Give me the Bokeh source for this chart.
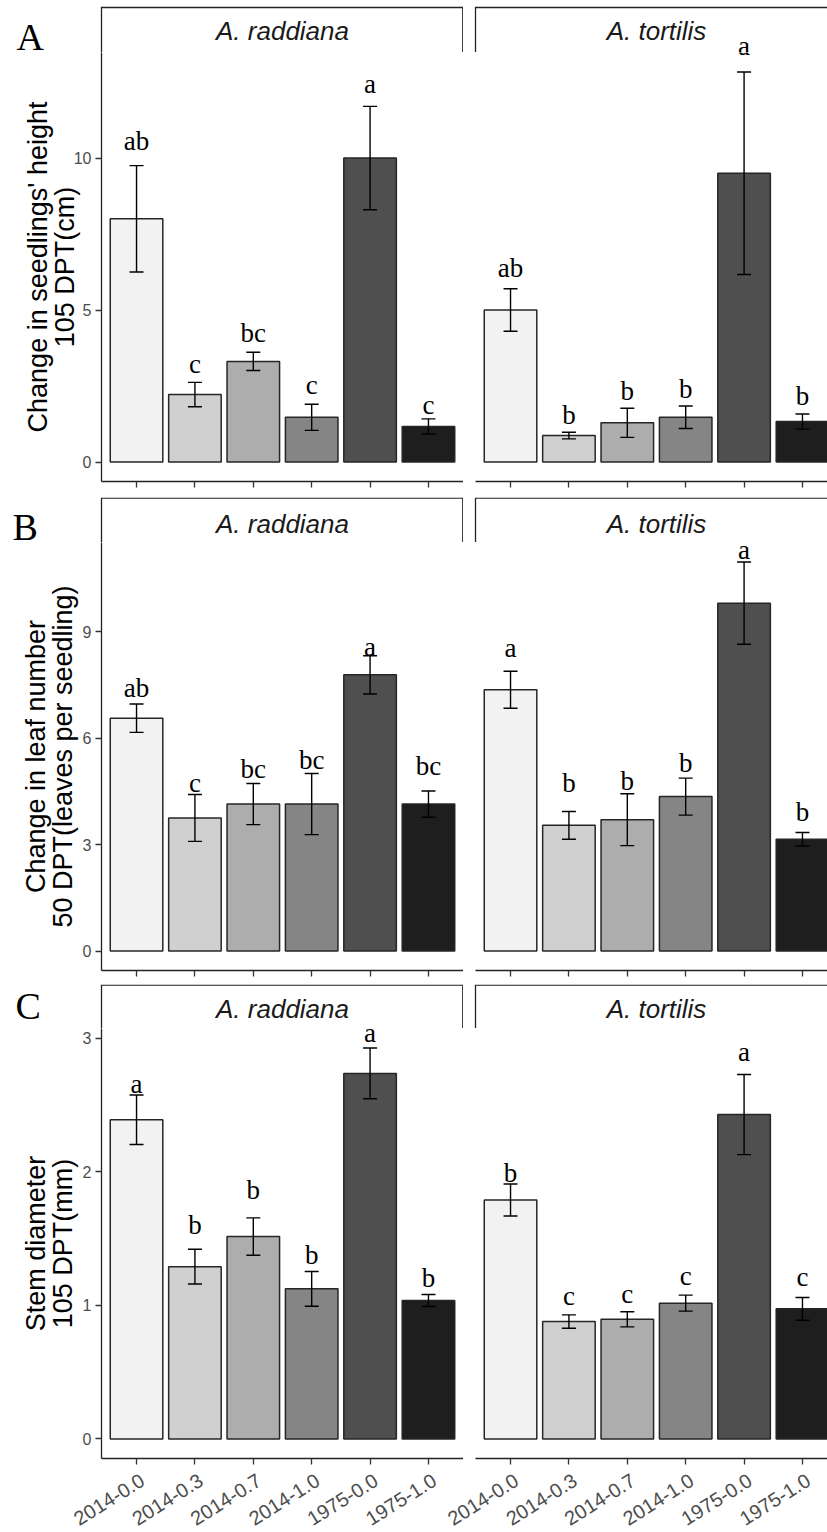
import math
from bokeh.plotting import figure
from bokeh.models import (Range1d, FixedTicker, LinearAxis, Whisker, TeeHead,
                          ColumnDataSource)
from bokeh.layouts import column, row
from bokeh.embed import file_html
from bokeh.resources import INLINE
from bokeh.core.properties import value

# ---------------- data ----------------
categories = ["2014-0.0", "2014-0.3", "2014-0.7", "2014-1.0", "1975-0.0", "1975-1.0"]
species = ["A. raddiana", "A. tortilis"]
panel_letters = ["A", "B", "C"]
bar_colors = ["#F2F2F2", "#D0D0D0", "#ADADAD", "#858585", "#4F4F4F", "#1E1E1E"]

# A: change in seedlings' height, 105 DPT (cm)
height_rad_mean = [8.0, 2.22, 3.31, 1.47, 10.0, 1.17]
height_rad_se = [1.75, 0.40, 0.30, 0.43, 1.70, 0.25]
height_rad_letters = ["ab", "c", "bc", "c", "a", "c"]
height_rad_label_y = [10.26, 2.93, 3.95, 2.25, 12.14, 1.59]
height_tor_mean = [5.0, 0.87, 1.29, 1.47, 9.5, 1.33]
height_tor_se = [0.70, 0.11, 0.48, 0.37, 3.33, 0.25]
height_tor_letters = ["ab", "b", "b", "b", "a", "b"]
height_tor_label_y = [6.09, 1.24, 2.05, 2.12, 13.39, 1.89]
height_ticks = [0, 5, 10]
height_ylabel = "Change in seedlings' height\n105 DPT(cm)"

# B: change in leaf number, 50 DPT
leaf_rad_mean = [6.56, 3.75, 4.14, 4.14, 7.78, 4.14]
leaf_rad_se = [0.40, 0.66, 0.58, 0.86, 0.54, 0.37]
leaf_rad_letters = ["ab", "c", "bc", "bc", "a", "bc"]
leaf_rad_label_y = [7.17, 4.49, 4.87, 5.13, 8.30, 4.96]
leaf_tor_mean = [7.36, 3.54, 3.70, 4.35, 9.80, 3.15]
leaf_tor_se = [0.52, 0.39, 0.73, 0.52, 1.16, 0.19]
leaf_tor_letters = ["a", "b", "b", "b", "a", "b"]
leaf_tor_label_y = [8.28, 4.49, 4.54, 5.04, 11.05, 3.67]
leaf_ticks = [0, 3, 6, 9]
leaf_ylabel = "Change in leaf number\n50 DPT(leaves per seedling)"

# C: stem diameter, 105 DPT (mm)
stem_rad_mean = [2.39, 1.29, 1.515, 1.124, 2.737, 1.037]
stem_rad_se = [0.185, 0.13, 0.14, 0.13, 0.19, 0.045]
stem_rad_letters = ["a", "b", "b", "b", "a", "b"]
stem_rad_label_y = [2.587, 1.536, 1.795, 1.311, 2.976, 1.138]
stem_tor_mean = [1.789, 0.879, 0.896, 1.017, 2.429, 0.974]
stem_tor_se = [0.12, 0.05, 0.057, 0.06, 0.30, 0.085]
stem_tor_letters = ["b", "c", "c", "c", "a", "c"]
stem_tor_label_y = [1.925, 1.003, 1.017, 1.156, 2.832, 1.147]
stem_ticks = [0, 1, 2, 3]
stem_ylabel = "Stem diameter\n105 DPT(mm)"

# ---------------- layout / style ----------------
SANS = "Liberation Sans"
SERIF = "Liberation Serif"
LINE = "#222222"
TICK = "#333333"
TICKLAB = "#4D4D4D"
LABEL_PX = 27          # size of the significance letters
LABEL_GLYPH_H = 19     # approx. ascender height of those letters, px

PAGE_W = 827
LEFT_BORDER = 101
GAP = 12
FACET_FRAME_W = 362
LEFT_W = LEFT_BORDER + FACET_FRAME_W
RIGHT_W = PAGE_W - LEFT_W
X0 = 0.4
PX_PER_CAT = FACET_FRAME_W / (len(categories) + 0.2)
FACET_OFFSET = (FACET_FRAME_W + GAP) / PX_PER_CAT   # right facet shift, in category units

XLAB_H = 61            # height of the band holding the rotated category labels
XLAB_ANGLE = math.radians(32)
XLAB_TOP = 8           # px from the band's top to the labels' anchor

xs = [i + 1 for i in range(len(categories))]
x_center = sum(xs) / len(xs)

rows_spec = [
    dict(means=(height_rad_mean, height_tor_mean), ses=(height_rad_se, height_tor_se),
         letters=(height_rad_letters, height_tor_letters),
         label_y=(height_rad_label_y, height_tor_label_y),
         ticks=height_ticks, ylabel=height_ylabel,
         strip_h=52, strip_line_top=7, strip_text_up=21.5,
         frame_h=429, bottom=16, ylab_standoff=-9,
         letter_x=16, letter_up=16),
    dict(means=(leaf_rad_mean, leaf_tor_mean), ses=(leaf_rad_se, leaf_tor_se),
         letters=(leaf_rad_letters, leaf_tor_letters),
         label_y=(leaf_rad_label_y, leaf_tor_label_y),
         ticks=leaf_ticks, ylabel=leaf_ylabel,
         strip_h=45, strip_line_top=0.7, strip_text_up=19,
         frame_h=428, bottom=14, ylab_standoff=2,
         letter_x=12, letter_up=16),
    dict(means=(stem_rad_mean, stem_tor_mean), ses=(stem_rad_se, stem_tor_se),
         letters=(stem_rad_letters, stem_tor_letters),
         label_y=(stem_rad_label_y, stem_tor_label_y),
         ticks=stem_ticks, ylabel=stem_ylabel,
         strip_h=44, strip_line_top=0.7, strip_text_up=19.3,
         frame_h=430, bottom=12, ylab_standoff=2,
         letter_x=15, letter_up=22.5),
]


def base_fig(width, height, xr, yr, left, right, top, bottom):
    f = figure(width=width, height=height, x_range=xr, y_range=yr,
               output_backend="svg", toolbar_location=None,
               x_axis_location=None, y_axis_location=None,
               min_border=0, min_border_left=left, min_border_right=right,
               min_border_top=top, min_border_bottom=bottom)
    f.grid.visible = False
    f.outline_line_color = None
    f.background_fill_color = "white"
    f.border_fill_color = "white"
    return f


def add_labels(f, src):
    # label y values are the letters' baselines; "middle" sits ~9px above it
    f.text(x="x", y="ly", text="letter", source=src, text_font=value(SERIF),
           text_font_size=f"{LABEL_PX}px", text_align="center", text_baseline="middle",
           y_offset=-9, text_color="black")


def make_panel(side, src, yr, spec):
    left = side == 0
    width = LEFT_W if left else RIGHT_W
    mb_left = LEFT_BORDER if left else GAP
    frame_w = width - mb_left
    p = base_fig(width, spec["frame_h"] + spec["bottom"],
                 Range1d(X0, X0 + frame_w / PX_PER_CAT), yr,
                 mb_left, 0, 0, spec["bottom"])

    # ticks only; the category names are set in a band under the last row
    xa = LinearAxis(ticker=FixedTicker(ticks=xs),
                    major_label_overrides={x: "" for x in xs},
                    major_tick_in=0, major_tick_out=6, minor_tick_in=0, minor_tick_out=0,
                    major_label_standoff=0, major_label_text_font_size="0px",
                    axis_line_color=LINE, axis_line_width=1.3,
                    major_tick_line_color=TICK, major_tick_line_width=1.3)
    p.add_layout(xa, "below")

    if left:
        ya = LinearAxis(ticker=FixedTicker(ticks=spec["ticks"]), axis_label=spec["ylabel"],
                        major_tick_in=0, major_tick_out=6, minor_tick_in=0, minor_tick_out=0,
                        major_label_standoff=4, major_label_text_font=SANS,
                        major_label_text_font_size="16px", major_label_text_color=TICKLAB,
                        axis_line_color=LINE, axis_line_width=1.3,
                        major_tick_line_color=TICK, major_tick_line_width=1.3,
                        axis_label_text_font=SANS, axis_label_text_font_size="27px",
                        axis_label_text_font_style="normal", axis_label_text_color="black",
                        axis_label_text_line_height=0.9,
                        axis_label_standoff=spec["ylab_standoff"])
        p.add_layout(ya, "left")

    p.vbar(x="x", top="top", bottom=0, width=0.9, source=src, fill_color="color",
           line_color="#262626", line_width=1.5)
    p.add_layout(Whisker(source=src, base="x", upper="upper", lower="lower",
                         dimension="height", level="annotation",
                         line_color="black", line_width=1.4,
                         upper_head=TeeHead(size=14, line_color="black", line_width=1.4),
                         lower_head=TeeHead(size=14, line_color="black", line_width=1.4)))
    add_labels(p, src)
    return p


def make_strip(side, over_src, y_lo, scale, spec, title, letter):
    left = side == 0
    width = LEFT_W if left else RIGHT_W
    mb_left = LEFT_BORDER if left else GAP
    facet_w = width - mb_left
    h = spec["strip_h"]
    x_lo = X0 - mb_left / PX_PER_CAT
    x_hi = X0 + facet_w / PX_PER_CAT
    y_hi = y_lo + h / scale
    s = base_fig(width, h, Range1d(x_lo, x_hi), Range1d(y_lo, y_hi), 0, 0, 0, 0)

    y_line = y_lo + (h - spec["strip_line_top"]) / scale
    if left:
        x_right = x_hi - 0.7 / PX_PER_CAT
        s.line(x=[X0, X0, x_right, x_right], y=[y_lo, y_line, y_line, y_lo],
               line_color=LINE, line_width=1.3, line_join="miter")
    else:
        s.line(x=[X0, X0, x_hi], y=[y_lo, y_line, y_line],
               line_color=LINE, line_width=1.3, line_join="miter")

    s.text(x=[x_center], y=[y_lo + spec["strip_text_up"] / scale], text=[title],
           text_font=value(SANS), text_font_style=value("italic"), text_font_size="26px",
           text_align="center", text_baseline="middle", text_color="#1A1A1A")
    # significance letters that spill from the panel up into the strip area
    if over_src is not None:
        add_labels(s, over_src)
    if letter is not None:
        s.text(x=[X0 + (spec["letter_x"] - mb_left) / PX_PER_CAT],
               y=[y_lo + spec["letter_up"] / scale], text=[letter],
               text_font=value(SERIF), text_font_size="38px", text_align="left",
               text_baseline="middle", text_color="black")
    return s


def make_xlabels():
    # one band across both facets, in left-facet category units
    xl = base_fig(PAGE_W, XLAB_H,
                  Range1d(X0 - LEFT_BORDER / PX_PER_CAT, X0 + (PAGE_W - LEFT_BORDER) / PX_PER_CAT),
                  Range1d(0, XLAB_H), 0, 0, 0, 0)
    lab_x = xs + [x + FACET_OFFSET for x in xs]
    lab_t = categories + categories
    xl.text(x=lab_x, y=[XLAB_H - XLAB_TOP] * len(lab_x), text=lab_t,
            angle=XLAB_ANGLE, x_offset=6, text_font=value(SANS), text_font_size="20px",
            text_align="right", text_baseline="middle", text_color=TICKLAB)
    return xl


children = []
for r, spec in enumerate(rows_spec):
    top_val = max(max(m + s for m, s in zip(spec["means"][k], spec["ses"][k])) for k in range(2))
    y_start, y_end = -0.05 * top_val, 1.05 * top_val
    yr = Range1d(y_start, y_end)
    scale = spec["frame_h"] / (y_end - y_start)
    strips, panels = [], []
    for side in range(2):
        means = spec["means"][side]
        ses = spec["ses"][side]
        letters = spec["letters"][side]
        label_y = spec["label_y"][side]
        src = ColumnDataSource(dict(
            x=xs, top=means,
            upper=[m + s for m, s in zip(means, ses)],
            lower=[m - s for m, s in zip(means, ses)],
            letter=letters, ly=label_y, color=bar_colors))
        spill = [i for i, ly in enumerate(label_y) if ly + LABEL_GLYPH_H / scale > y_end]
        over_src = None
        if spill:
            over_src = ColumnDataSource(dict(x=[xs[i] for i in spill],
                                             ly=[label_y[i] for i in spill],
                                             letter=[letters[i] for i in spill]))
        strips.append(make_strip(side, over_src, y_end, scale, spec, species[side],
                                 panel_letters[r] if side == 0 else None))
        panels.append(make_panel(side, src, yr, spec))
    children.append(row(*strips))
    children.append(row(*panels))
children.append(make_xlabels())

layout = column(*children)
open("out.html", "w").write(file_html(layout, INLINE))
